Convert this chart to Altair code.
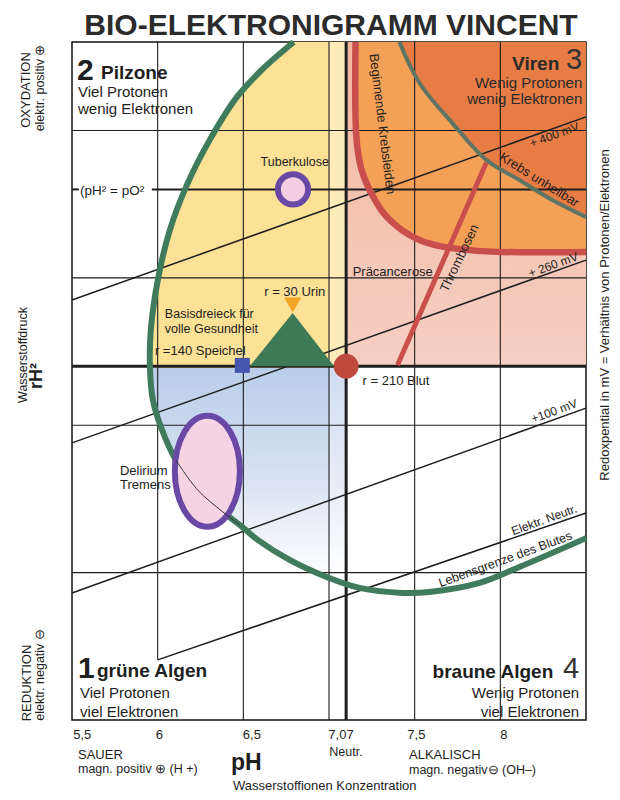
import altair as alt
import pandas as pd

FONT = "Liberation Sans, Arial, Helvetica, sans-serif"
INK = "#1e1e1e"

# ---------------- data ----------------
PH_DOMAIN = [5.5, 8.5]
RH_DOMAIN = [10, 33]
y_tick_values = [10, 15, 20, 22, 25, 28, 30, 33]
x_tick_labels = ["5,5", "6", "6,5", "7,07", "7,5", "8"]
x_tick_label_ph = [5.56, 6.01, 6.55, 7.07, 7.51, 8.02]

grid_v_ph = [6, 6.5, 7, 7.5, 8]
grid_v_rh_low = [12.04, 10, 10, 10, 10]
grid_h_rh = [30, 25, 20, 15]
neutral_ph = 7.1
base_rh = 22
oxygen_rh = 28

redox_ph0 = [5.5, 5.5, 5.5, 6.0]
redox_rh0 = [24.25, 19.4, 14.31, 12.04]
redox_ph1 = [8.5, 8.5, 8.5, 8.5]
redox_rh1 = [30.46, 25.6, 20.58, 17.02]
redox_text = ["+ 400 mV", "+ 260 mV", "+100 mV", "Elektr. Neutr."]
redox_text_ph = [8.315, 8.309, 8.315, 8.256]
redox_text_rh = [29.85, 25.44, 20.48, 16.79]

life_ph = [6.794, 6.607, 6.462, 6.304, 6.176, 6.071, 6.001, 5.960, 5.955, 5.972,
           6.019, 6.106, 6.234, 6.380, 6.479, 6.584, 6.770, 6.986, 7.178, 7.429,
           7.586, 7.878, 8.111, 8.501]
life_rh = [33.0, 32.05, 31.13, 29.68, 28.22, 26.62, 24.93, 23.23, 21.94, 20.86,
           19.94, 18.82, 17.80, 17.06, 16.62, 16.11, 15.43, 14.85, 14.48, 14.31,
           14.34, 14.65, 15.19, 16.17]

krebs_begin_ph = [7.155, 7.161, 7.19, 7.237, 7.336, 7.528, 7.819, 8.501]
krebs_begin_rh = [33.0, 29.68, 28.66, 27.98, 27.07, 26.28, 25.94, 25.88]

krebs_end_ph = [7.411, 7.528, 7.720, 7.918, 8.111, 8.303, 8.501]
krebs_end_rh = [33.0, 31.61, 30.25, 29.0, 28.32, 27.64, 27.06]

thromb_ph = [7.40, 7.918]
thromb_rh = [22.04, 28.9]

triangle_ph = [6.537, 6.788, 7.03]
triangle_rh = [22.0, 23.81, 22.0]

urin = (6.788, 24.08)
speichel = (6.494, 22.03)
blut = (7.1, 22.0)
tuberkulose = (6.79, 28.0)
delirium = (6.29, 18.44)

# ---------------- helpers ----------------
xs = alt.Scale(domain=PH_DOMAIN, nice=False, zero=False)
ys = alt.Scale(domain=RH_DOMAIN, nice=False, zero=False)


def X(f):
    return alt.X(f, type="quantitative", scale=xs, axis=None)


def Y(f):
    return alt.Y(f, type="quantitative", scale=ys, axis=None)


def label(text, ph, rh, size=13, weight="normal", align="left",
          baseline="alphabetic", angle=0, color=INK, font=FONT):
    df = pd.DataFrame({"t": [text], "ph": [ph], "rh": [rh]})
    return alt.Chart(df).mark_text(
        font=font, fontSize=size, fontWeight=weight, align=align,
        baseline=baseline, angle=angle, color=color
    ).encode(x=X("ph"), y=Y("rh"), text="t:N")


def plabel(text, px, py, size=13, weight="normal", align="left",
           baseline="middle", angle=0, color=INK, font=FONT):
    df = pd.DataFrame({"t": [text]})
    return alt.Chart(df).mark_text(
        font=font, fontSize=size, fontWeight=weight, align=align,
        baseline=baseline, angle=angle, color=color
    ).encode(x=alt.value(px), y=alt.value(py), text="t:N")


life_df = pd.DataFrame({"ph": life_ph, "rh": life_rh, "i": range(len(life_ph))})

# ---------------- fills ----------------
yellow = alt.Chart(life_df).transform_filter("datum.rh >= 21.9").transform_calculate(
    right=str(neutral_ph)).mark_area(orient="horizontal", color="#fce196").encode(
    y=Y("rh"), x=X("ph"), x2="right:Q")

blue_grad = alt.Gradient(gradient="linear", x1=0, x2=0, y1=0, y2=1, stops=[
    alt.GradientStop(color="#b9cdea", offset=0),
    alt.GradientStop(color="#d9e3f3", offset=0.55),
    alt.GradientStop(color="#ffffff", offset=1)])
blue = alt.Chart(life_df).transform_filter("datum.rh <= 21.95 && datum.ph <= 7.1").transform_calculate(
    right=str(neutral_ph)).mark_area(orient="horizontal", color=blue_grad).encode(
    y=Y("rh"), x=X("ph"), x2="right:Q")

salmon_grad = alt.Gradient(gradient="linear", x1=0, x2=0, y1=0, y2=1, stops=[
    alt.GradientStop(color="#f2b79d", offset=0),
    alt.GradientStop(color="#f6cfc3", offset=1)])
salmon = alt.Chart(pd.DataFrame({"x0": [neutral_ph], "x1": [PH_DOMAIN[1]],
                                 "y0": [base_rh], "y1": [RH_DOMAIN[1]]})).mark_rect(
    color=salmon_grad).encode(x=X("x0"), x2="x1:Q", y=Y("y0"), y2="y1:Q")

orange = alt.Chart(pd.DataFrame({"ph": krebs_begin_ph, "rh": krebs_begin_rh})).transform_calculate(
    right=str(PH_DOMAIN[1])).mark_area(orient="horizontal", color="#f4a056").encode(
    y=Y("rh"), x=X("ph"), x2="right:Q")

dark_orange = alt.Chart(pd.DataFrame({"ph": krebs_end_ph, "rh": krebs_end_rh})).transform_calculate(
    right=str(PH_DOMAIN[1])).mark_area(orient="horizontal", color="#e77c45").encode(
    y=Y("rh"), x=X("ph"), x2="right:Q")

strip = alt.Chart(pd.DataFrame({"x0": [7.0], "x1": [neutral_ph], "y0": [15.0], "y1": [33.0]})).mark_rect(
    color="white", opacity=0.35).encode(x=X("x0"), x2="x1:Q", y=Y("y0"), y2="y1:Q")

# ---------------- grid ----------------
vgrid = alt.Chart(pd.DataFrame({"ph": grid_v_ph, "lo": grid_v_rh_low})).transform_calculate(
    hi="33").mark_rule(color=INK, strokeWidth=1.1).encode(x=X("ph"), y=Y("lo"), y2="hi:Q")
hgrid = alt.Chart(pd.DataFrame({"rh": grid_h_rh})).transform_calculate(
    a="5.5", b="8.5").mark_rule(color=INK, strokeWidth=1.1).encode(y=Y("rh"), x=X("a"), x2="b:Q")
line28 = alt.Chart(pd.DataFrame({"a": [5.5, 5.966], "b": [5.54, 8.5], "rh": [oxygen_rh, oxygen_rh]})).mark_rule(
    color=INK, strokeWidth=2).encode(y=Y("rh"), x=X("a"), x2="b:Q")
line22 = alt.Chart(pd.DataFrame({"rh": [base_rh]})).transform_calculate(
    a="5.5", b="8.5").mark_rule(color=INK, strokeWidth=3).encode(y=Y("rh"), x=X("a"), x2="b:Q")
line_neutral = alt.Chart(pd.DataFrame({"ph": [neutral_ph]})).transform_calculate(
    lo="10", hi="33").mark_rule(color=INK, strokeWidth=3).encode(x=X("ph"), y=Y("lo"), y2="hi:Q")

# y axis (only layer that carries an axis)
yaxis = alt.Chart(pd.DataFrame({"rh": y_tick_values})).mark_point(opacity=0).encode(
    y=alt.Y("rh:Q", scale=ys, axis=alt.Axis(
        values=y_tick_values, title=None, ticks=False, domain=False, grid=False,
        labelFont=FONT, labelFontSize=13, labelColor=INK, labelPadding=9,
        labelOverlap=False, labelFlush=False)),
    x=alt.value(0))

# ---------------- redox lines ----------------
redox = alt.Chart(pd.DataFrame({"x0": redox_ph0, "y0": redox_rh0, "x1": redox_ph1, "y1": redox_rh1})).mark_rule(
    color=INK, strokeWidth=1.5).encode(x=X("x0"), y=Y("y0"), x2="x1:Q", y2="y1:Q")
redox_lbl = alt.Chart(pd.DataFrame({"t": redox_text, "ph": redox_text_ph, "rh": redox_text_rh})).mark_text(
    font=FONT, fontSize=12, angle=340, align="center", baseline="middle", color=INK).encode(
    x=X("ph"), y=Y("rh"), text="t:N")

# ---------------- curves ----------------
life = alt.Chart(life_df).mark_line(color="#3f7b5c", strokeWidth=6, interpolate="catmull-rom").encode(
    x=X("ph"), y=Y("rh"), order="i:Q")
begin = alt.Chart(pd.DataFrame({"ph": krebs_begin_ph, "rh": krebs_begin_rh, "i": range(len(krebs_begin_ph))})).mark_line(
    color="#c84f4c", strokeWidth=6.5, interpolate="catmull-rom").encode(x=X("ph"), y=Y("rh"), order="i:Q")
endc = alt.Chart(pd.DataFrame({"ph": krebs_end_ph, "rh": krebs_end_rh, "i": range(len(krebs_end_ph))})).mark_line(
    color="#5e7565", strokeWidth=4, interpolate="catmull-rom").encode(x=X("ph"), y=Y("rh"), order="i:Q")
thromb = alt.Chart(pd.DataFrame({"x0": [thromb_ph[0]], "y0": [thromb_rh[0]], "x1": [thromb_ph[1]], "y1": [thromb_rh[1]]})).mark_rule(
    color="#c84f4c", strokeWidth=5).encode(x=X("x0"), y=Y("y0"), x2="x1:Q", y2="y1:Q")

# ---------------- shapes ----------------
tri = alt.Chart(pd.DataFrame({"ph": triangle_ph, "rh": triangle_rh})).transform_calculate(
    base=str(base_rh)).mark_area(color="#3e7a55").encode(x=X("ph"), y=Y("rh"), y2="base:Q")


def marker(pt, **kw):
    return alt.Chart(pd.DataFrame({"ph": [pt[0]], "rh": [pt[1]]})).mark_point(**kw).encode(
        x=X("ph"), y=Y("rh"))


m_urin = marker(urin, shape="triangle-down", size=289, filled=True, color="#f4a424", opacity=1)
m_speichel = marker(speichel, shape="square", size=225, filled=True, color="#4556ae", opacity=1)
m_blut = marker(blut, shape="circle", size=616, filled=True, color="#bd4a3d", opacity=1)
m_tuber = marker(tuberkulose, shape="circle", size=908, filled=True, fill="#f3cde0",
                 stroke="#6a48a6", strokeWidth=6, opacity=1)
ELLIPSE = ("M0,-1C0.3236,-1,0.586,-0.5523,0.586,0C0.586,0.5523,0.3236,1,0,1"
           "C-0.3236,1,-0.586,0.5523,-0.586,0C-0.586,-0.5523,-0.3236,-1,0,-1Z")
m_delir = marker(delirium, shape=ELLIPSE, size=12321, filled=True, fill="#f6d3e3",
                 stroke="#6a48a6", strokeWidth=6, opacity=1)
life_thin = alt.Chart(life_df).transform_filter("datum.i >= 11 && datum.i <= 14").mark_line(
    color="#333333", strokeWidth=1, interpolate="catmull-rom").encode(x=X("ph"), y=Y("rh"), order="i:Q")

# ---------------- texts ----------------
texts = [
    # zone 2
    label("2", 5.529, 31.71, size=30, weight="bold"),
    label("Pilzone", 5.669, 31.74, size=19, weight="bold"),
    label("Viel Protonen", 5.535, 31.13, size=15),
    label("wenig Elektronen", 5.535, 30.56, size=15),
    # zone 3
    label("3", 8.478, 32.08, size=29, align="right", color="#333333"),
    label("Viren", 8.344, 32.05, size=19, weight="bold", align="right", color="#2a2a2a"),
    label("Wenig Protonen", 8.478, 31.45, size=15, align="right", color="#2a2a2a"),
    label("wenig Elektronen", 8.478, 30.88, size=15, align="right", color="#2a2a2a"),
    # zone 1
    label("1", 5.535, 11.43, size=30, weight="bold"),
    label("grüne Algen", 5.646, 11.46, size=19, weight="bold"),
    label("Viel Protonen", 5.547, 10.75, size=15),
    label("viel Elektronen", 5.547, 10.10, size=15),
    # zone 4
    label("4", 8.46, 11.43, size=29, align="right", color="#333333"),
    label("braune Algen", 8.309, 11.43, size=19, weight="bold", align="right"),
    label("Wenig Protonen", 8.46, 10.75, size=15, align="right"),
    label("viel Elektronen", 8.46, 10.10, size=15, align="right"),
    # annotations
    label("(pH² = pO²", 5.547, 27.95, size=13.5, baseline="middle"),
    label("Tuberkulose", 6.80, 28.93, size=12.5, align="center", baseline="middle"),
    label("r = 30 Urin", 6.80, 24.52, size=13, align="center", baseline="middle"),
    label("Basisdreieck für", 6.042, 23.76, size=12.5, baseline="middle"),
    label("volle Gesundheit", 6.042, 23.28, size=12.5, baseline="middle"),
    label("r =140 Speichel", 5.984, 22.52, size=13, baseline="middle"),
    label("r = 210 Blut", 7.196, 21.5, size=13, baseline="middle"),
    label("Delirium", 5.78, 18.45, size=13, baseline="middle"),
    label("Tremens", 5.78, 17.98, size=13, baseline="middle"),
    label("Präcancerose", 7.138, 25.2, size=13, baseline="middle"),
    label("Beginnende Krebsleiden", 7.31, 30.22, size=13, align="center", baseline="middle", angle=83),
    label("Krebs unheilbar", 8.227, 28.32, size=13, align="center", baseline="middle", angle=32),
    label("Thrombosen", 7.762, 25.67, size=13, align="center", baseline="middle", angle=295.5),
    label("Lebensgrenze des Blutes", 8.029, 15.45, size=12.5, align="center", baseline="middle", angle=340),
]

# x tick labels
xlab = alt.Chart(pd.DataFrame({"t": x_tick_labels, "ph": x_tick_label_ph})).mark_text(
    font=FONT, fontSize=13, align="center", baseline="middle", color=INK).encode(
    x=X("ph"), y=alt.value(693), text="t:N")

outside = [
    plabel("BIO-ELEKTRONIGRAMM VINCENT", 259, -7, size=30, weight="bold", align="center",
           baseline="alphabetic", color="#2b2b2b"),
    plabel("OXYDATION", -46, 48, size=13, align="center", angle=270),
    plabel("elektr. positiv ⊕", -32, 46, size=12.5, align="center", angle=270),
    plabel("Wasserstoffdruck", -49, 313, size=12.5, align="center", angle=270),
    plabel("rH²", -35, 334, size=18, weight="bold", align="center", angle=270),
    plabel("REDUKTION", -45, 641, size=13, align="center", angle=270),
    plabel("elektr. negativ ⊖", -32, 633, size=12.5, align="center", angle=270),
    plabel("Redoxpential in mV = Verhältnis von Protonen/Elektronen", 533, 273, size=13,
           align="center", angle=270),
    plabel("Neutr.", 274, 710, size=12.5, align="center"),
    plabel("SAUER", 6, 713, size=13),
    plabel("magn. positiv ⊕ (H +)", 6, 727, size=12.5),
    plabel("pH", 159, 728, size=23, weight="bold", baseline="alphabetic"),
    plabel("Wasserstoffionen Konzentration", 161, 744, size=13),
    plabel("ALKALISCH", 337, 713, size=13),
    plabel("magn. negativ⊖ (OH–)", 337, 728, size=12.5),
]

layers = [salmon, orange, dark_orange, yellow, blue, strip,
          vgrid, hgrid, line28, line22, line_neutral, yaxis,
          redox, begin, endc, thromb, life,
          tri, m_urin, m_speichel, m_blut, m_tuber, m_delir, life_thin,
          redox_lbl, xlab] + texts + outside

chart = alt.layer(*layers).properties(
    width=514, height=678,
    padding={"left": 64, "top": 34, "right": 26, "bottom": 72},
    autosize=alt.AutoSizeParams(type="none"),
    background="white",
).configure_view(stroke="#111111", strokeWidth=1.5)

chart.save("out.html", embed_options={"renderer": "svg", "actions": False})
